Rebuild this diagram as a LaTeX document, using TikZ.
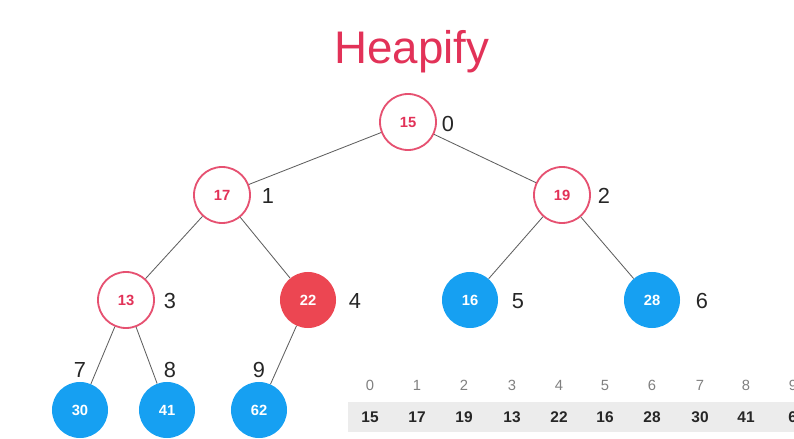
\documentclass[tikz,border=0pt]{standalone}
\usepackage{fontspec}
\setmainfont{Liberation Sans}
\definecolor{heapred}{RGB}{226,50,88}
\definecolor{fillred}{RGB}{236,70,82}
\definecolor{heapblue}{RGB}{22,160,242}
\definecolor{bandgray}{RGB}{236,236,236}
\definecolor{edgegray}{RGB}{95,95,95}
\begin{document}
\begin{tikzpicture}[x=0.025cm, y=-0.025cm,
	heapnode/.style={circle, minimum size=1.4cm, inner sep=0pt, font=\bfseries\fontsize{10.5}{12}\selectfont},
	ring/.style={heapnode, draw=heapred!85, line width=1.3pt, fill=white, text=heapred},
	hot/.style={heapnode, fill=fillred, text=white},
	leaf/.style={heapnode, fill=heapblue, text=white},
	idx/.style={text=black!85, font=\fontsize{15.5}{18}\selectfont},
	edge/.style={draw=edgegray, line width=0.6pt},
	head/.style={text=black!50, font=\fontsize{10.5}{12}\selectfont},
	cell/.style={text=black!85, font=\bfseries\fontsize{11}{13}\selectfont}]
		\useasboundingbox (0,0) rectangle (794,439);
		\clip (0,0) rectangle (794,439);
		
		% Title
		\node (title) at (412,52) [text=heapred, font=\fontsize{32.5}{38}\selectfont] {Heapify};
		
		% Nodes
		\node[ring] (n0) at (408,122) {15};
		\node[ring] (n1) at (222,195) {17};
		\node[ring] (n2) at (562,195) {19};
		\node[ring] (n3) at (126,300) {13};
		\node[hot] (n4) at (308,300) {22};
		\node[leaf] (n5) at (470,300) {16};
		\node[leaf] (n6) at (652,300) {28};
		\node[leaf] (n7) at (80,410) {30};
		\node[leaf] (n8) at (167,410) {41};
		\node[leaf] (n9) at (259,410) {62};
		
		% Index labels
		\node[idx] (i0) at (448,124) {0};
		\node[idx] (i1) at (268,196) {1};
		\node[idx] (i2) at (604,196) {2};
		\node[idx] (i3) at (170,301) {3};
		\node[idx] (i4) at (355,301) {4};
		\node[idx] (i5) at (518,301) {5};
		\node[idx] (i6) at (702,301) {6};
		\node[idx] (i7) at (80,370) {7};
		\node[idx] (i8) at (170,370) {8};
		\node[idx] (i9) at (259,370) {9};
		
		% Lines
		\draw[edge] (n0) -- (n1);
		\draw[edge] (n0) -- (n2);
		\draw[edge] (n1) -- (n3);
		\draw[edge] (n1) -- (n4);
		\draw[edge] (n2) -- (n5);
		\draw[edge] (n2) -- (n6);
		\draw[edge] (n3) -- (n7);
		\draw[edge] (n3) -- (n8);
		\draw[edge] (n4) -- (n9);
		
		% Array
		\fill[bandgray] (348,402) rectangle (800,432);
		\node[head] (h0) at (370,385) {0};
		\node[head] (h1) at (417,385) {1};
		\node[head] (h2) at (464,385) {2};
		\node[head] (h3) at (512,385) {3};
		\node[head] (h4) at (559,385) {4};
		\node[head] (h5) at (605,385) {5};
		\node[head] (h6) at (652,385) {6};
		\node[head] (h7) at (700,385) {7};
		\node[head] (h8) at (746,385) {8};
		\node[head] (h9) at (793,385) {9};
		\node[cell] (a0) at (370,417) {15};
		\node[cell] (a1) at (417,417) {17};
		\node[cell] (a2) at (464,417) {19};
		\node[cell] (a3) at (512,417) {13};
		\node[cell] (a4) at (559,417) {22};
		\node[cell] (a5) at (605,417) {16};
		\node[cell] (a6) at (652,417) {28};
		\node[cell] (a7) at (700,417) {30};
		\node[cell] (a8) at (746,417) {41};
		\node[cell] (a9) at (797,417) {62};
		
	\end{tikzpicture}
\end{document}
